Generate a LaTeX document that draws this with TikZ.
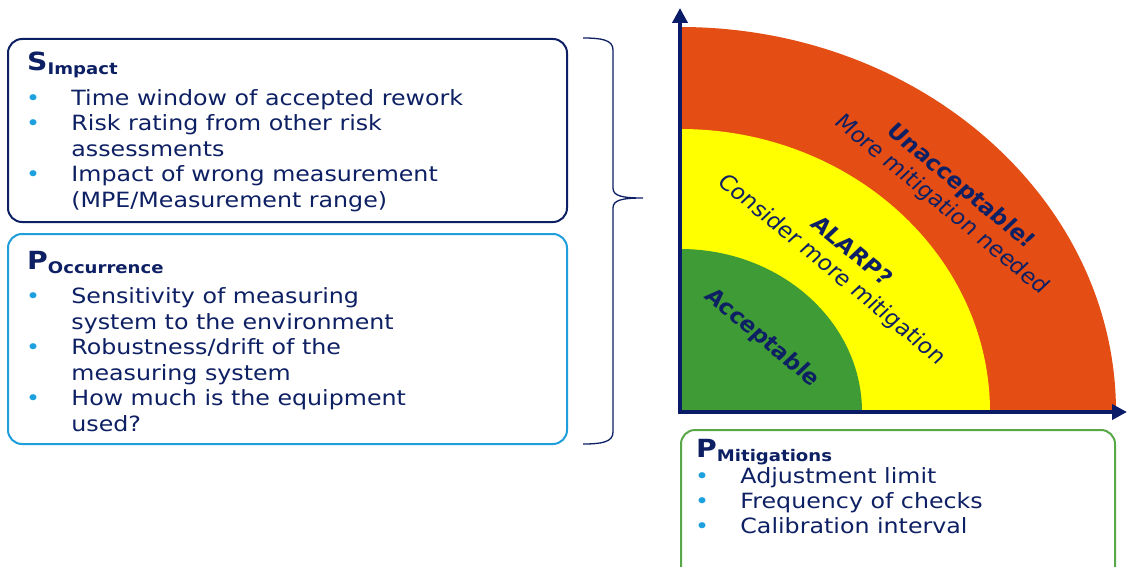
\documentclass[tikz,border=0pt]{standalone}
\usepackage{fontspec}
\setmainfont{DejaVu Sans}
\usepackage{xcolor}
\usetikzlibrary{arrows.meta,positioning}

\definecolor{navy}{RGB}{14,32,100}
\definecolor{axisblue}{RGB}{10,28,104}
\definecolor{skyline}{RGB}{30,158,218}
\definecolor{dotblue}{RGB}{28,160,222}
\definecolor{zonered}{RGB}{228,77,19}
\definecolor{zoneyellow}{RGB}{255,255,0}
\definecolor{zonegreen}{RGB}{63,155,53}
\definecolor{boxgreen}{RGB}{88,168,72}

\newcommand{\bul}{\makebox[40pt][l]{\textcolor{dotblue}{\textbullet}}}
\newcommand{\cont}{\hspace*{40pt}}
\newcommand{\hd}[2]{{\fontsize{25}{25}\selectfont\bfseries #1}\raisebox{-4pt}{\fontsize{16}{16}\selectfont\bfseries #2}}

\tikzset{
  frame/.style={draw, rounded corners=14pt, line width=2pt, fill=none},
  listtxt/.style={inner sep=0pt, text=navy, xscale=1.13, align=left, anchor=base west,
    font=\fontsize{21}{25.5}\selectfont},
  headtxt/.style={inner sep=0pt, text=navy, xscale=1.13, anchor=base west},
  zonetxt/.style={inner sep=0pt, text=navy, xscale=1.13, align=center,
    font=\fontsize{21}{25}\selectfont},
  axisline/.style={draw=axisblue, line width=4pt, -{Triangle[length=15pt,width=15pt]}},
  brace/.style={draw=navy, line width=1.3pt}
}

\begin{document}
\begin{tikzpicture}[x=1pt,y=-1pt]
    \useasboundingbox[fill=white] (0,0) rectangle (1127,567);

    % risk zones
    \coordinate (O) at (680,412);
    \fill[zonered] (O) -- ++(436,0) arc[start angle=0,end angle=-90,x radius=436,y radius=385] -- cycle;
    \fill[zoneyellow] (O) -- ++(310,0) arc[start angle=0,end angle=-90,x radius=310,y radius=283] -- cycle;
    \fill[zonegreen] (O) -- ++(182,0) arc[start angle=0,end angle=-90,x radius=182,y radius=163] -- cycle;

    % axes
    \coordinate (ytop) at (680,8);
    \coordinate (xend) at (1127,412);
    \draw[axisline] ([yshift=-2pt]O) -- (ytop);
    \draw[axisline] ([xshift=-2pt]O) -- (xend);

    \node[zonetxt, rotate=-43] (unacc) at (951,196) {{\bfseries Unacceptable!}\\More mitigation needed};
    \node[zonetxt, rotate=-43] (alarp) at (841,261) {{\bfseries ALARP?}\\Consider more mitigation};
    \node[zonetxt, rotate=-43] (accept) at (762,338) {\bfseries Acceptable};

    % left boxes (base = last line)
    \node[frame, draw=navy, minimum width=559pt, minimum height=183pt] (simpact) at (287.5,130.5) {};
    \node[headtxt] (shead) at (27,71) {\hd{S}{Impact}};
    \node[listtxt] (slist) at (26,207) {\bul Time window of accepted rework\\
        \bul Risk rating from other risk\\
        \cont assessments\\
        \bul Impact of wrong measurement\\
        \cont (MPE/Measurement range)};

    \node[frame, draw=skyline, minimum width=559pt, minimum height=210pt] (pocc) at (287.5,339) {};
    \node[headtxt] (phead) at (27,269) {\hd{P}{Occurrence}};
    \node[listtxt] (plist) at (26,431) {\bul Sensitivity of measuring\\
        \cont system to the environment\\
        \bul Robustness/drift of the\\
        \cont measuring system\\
        \bul How much is the equipment\\
        \cont used?};

    % mitigations box
    \node[frame, draw=boxgreen, minimum width=434pt, minimum height=170pt] (pmit) at (898,515) {};
    \node[headtxt] (mhead) at (696,457) {\hd{P}{Mitigations}};
    \node[listtxt, font=\fontsize{21}{25}\selectfont] (mlist) at (695,533) {\bul Adjustment limit\\
        \bul Frequency of checks\\
        \bul Calibration interval};

    % brace
    \coordinate (bt) at (583,38);
    \coordinate (btip) at (643,198);
    \coordinate (bb) at (583,444);
    \draw[brace] (bt) .. controls (602,38) and (613,40) .. (613,50) -- (613,188)
        .. controls (613,196) and (622,198) .. (btip)
        .. controls (622,198) and (613,200) .. (613,208) -- (613,432)
        .. controls (613,442) and (602,444) .. (bb);
\end{tikzpicture}
\end{document}
